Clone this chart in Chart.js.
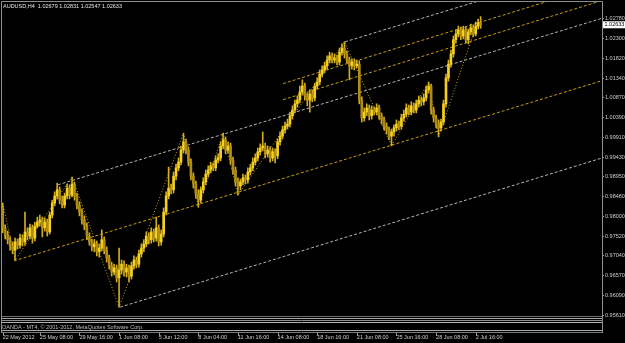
<!DOCTYPE html>
<html>
<head>
<meta charset="utf-8">
<script src="https://cdn.jsdelivr.net/npm/chart.js@4.4.1/dist/chart.umd.min.js"></script>
<style>
  html, body { margin: 0; padding: 0; background: #000; overflow: hidden; }
  canvas { display: block; }
</style>
</head>
<body>
<canvas id="chart" width="625" height="343"></canvas>
<script>
// AUDUSD H4, 22 May – 3 Jul 2012
const opens = [
  0.9820, 0.9772, 0.9755, 0.9743, 0.9728, 0.9718, 0.9738, 0.9730, 0.9747, 0.9738,
  0.9762, 0.9752, 0.9772, 0.9747, 0.9776, 0.9786, 0.9791, 0.9772, 0.9786, 0.9762,
  0.9803, 0.9832, 0.9849, 0.9864, 0.9839, 0.9827, 0.9849, 0.9868, 0.9851, 0.9878,
  0.9849, 0.9827, 0.9810, 0.9791, 0.9776, 0.9752, 0.9738, 0.9726, 0.9733, 0.9714,
  0.9723, 0.9743, 0.9718, 0.9699, 0.9680, 0.9665, 0.9675, 0.9651, 0.9670, 0.9684,
  0.9665, 0.9675, 0.9655, 0.9680, 0.9694, 0.9684, 0.9709, 0.9723, 0.9733, 0.9752,
  0.9743, 0.9762, 0.9747, 0.9772, 0.9738, 0.9757, 0.9810, 0.9849, 0.9868, 0.9864,
  0.9897, 0.9917, 0.9931, 0.9960, 0.9980, 0.9960, 0.9931, 0.9897, 0.9878, 0.9854,
  0.9839, 0.9864, 0.9883, 0.9902, 0.9912, 0.9922, 0.9917, 0.9936, 0.9941, 0.9970,
  0.9985, 0.9960, 0.9970, 0.9936, 0.9912, 0.9883, 0.9873, 0.9883, 0.9893, 0.9888,
  0.9907, 0.9917, 0.9931, 0.9941, 0.9956, 0.9965, 0.9970, 0.9951, 0.9960, 0.9941,
  0.9956, 0.9946, 0.9980, 0.9994, 1.0009, 1.0018, 1.0023, 1.0043, 1.0057, 1.0072,
  1.0081, 1.0101, 1.0115, 1.0091, 1.0081, 1.0096, 1.0086, 1.0115, 1.0125, 1.0144,
  1.0154, 1.0164, 1.0178, 1.0188, 1.0178, 1.0183, 1.0173, 1.0197, 1.0207, 1.0193,
  1.0178, 1.0164, 1.0173, 1.0164, 1.0168, 1.0081, 1.0038, 1.0052, 1.0062, 1.0043,
  1.0057, 1.0052, 1.0062, 1.0043, 1.0033, 1.0018, 1.0009, 0.9994, 1.0004, 1.0014,
  1.0023, 1.0018, 1.0038, 1.0047, 1.0062, 1.0052, 1.0067, 1.0057, 1.0072, 1.0081,
  1.0077, 1.0086, 1.0106, 1.0115, 1.0057, 1.0038, 1.0023, 1.0014, 1.0028, 1.0072,
  1.0135, 1.0168, 1.0193, 1.0227, 1.0241, 1.0251, 1.0236, 1.0251, 1.0227, 1.0246,
  1.0256, 1.0241, 1.0260, 1.02679
];
const highs = [
  0.9832, 0.9779, 0.9764, 0.9750, 0.9738, 0.9747, 0.9745, 0.9757, 0.9755, 0.9810,
  0.9772, 0.9781, 0.9779, 0.9786, 0.9798, 0.9803, 0.9798, 0.9796, 0.9793, 0.9810,
  0.9839, 0.9859, 0.9880, 0.9871, 0.9849, 0.9856, 0.9878, 0.9876, 0.9895, 0.9883,
  0.9856, 0.9835, 0.9818, 0.9801, 0.9784, 0.9760, 0.9745, 0.9743, 0.9740, 0.9733,
  0.9767, 0.9750, 0.9726, 0.9706, 0.9689, 0.9684, 0.9682, 0.9723, 0.9694, 0.9692,
  0.9684, 0.9682, 0.9689, 0.9704, 0.9701, 0.9718, 0.9733, 0.9743, 0.9762, 0.9760,
  0.9772, 0.9769, 0.9798, 0.9779, 0.9767, 0.9820, 0.9859, 0.9919, 0.9878, 0.9907,
  0.9926, 0.9941, 0.9970, 1.0001, 0.9987, 0.9968, 0.9939, 0.9905, 0.9885, 0.9864,
  0.9871, 0.9893, 0.9912, 0.9922, 0.9931, 0.9929, 0.9946, 0.9951, 0.9980, 1.0001,
  0.9992, 0.9980, 0.9977, 0.9943, 0.9919, 0.9893, 0.9890, 0.9902, 0.9900, 0.9917,
  0.9926, 0.9941, 0.9951, 0.9965, 0.9975, 1.0004, 0.9977, 0.9970, 0.9968, 0.9965,
  0.9963, 0.9987, 1.0004, 1.0018, 1.0028, 1.0035, 1.0052, 1.0067, 1.0081, 1.0091,
  1.0115, 1.0130, 1.0122, 1.0098, 1.0106, 1.0106, 1.0122, 1.0135, 1.0154, 1.0164,
  1.0173, 1.0188, 1.0197, 1.0195, 1.0193, 1.0190, 1.0207, 1.0217, 1.0222, 1.0200,
  1.0185, 1.0181, 1.0181, 1.0178, 1.0176, 1.0089, 1.0062, 1.0072, 1.0069, 1.0067,
  1.0064, 1.0072, 1.0069, 1.0050, 1.0040, 1.0026, 1.0016, 1.0011, 1.0021, 1.0033,
  1.0030, 1.0047, 1.0057, 1.0072, 1.0069, 1.0077, 1.0074, 1.0081, 1.0091, 1.0089,
  1.0096, 1.0115, 1.0125, 1.0120, 1.0064, 1.0045, 1.0033, 1.0035, 1.0081, 1.0144,
  1.0178, 1.0202, 1.0236, 1.0251, 1.0260, 1.0258, 1.0260, 1.0258, 1.0253, 1.0265,
  1.0263, 1.0270, 1.0277, 1.02831
];
const lows = [
  0.9760, 0.9745, 0.9733, 0.9718, 0.9709, 0.9694, 0.9721, 0.9723, 0.9728, 0.9730,
  0.9743, 0.9745, 0.9735, 0.9740, 0.9772, 0.9776, 0.9750, 0.9764, 0.9752, 0.9757,
  0.9796, 0.9825, 0.9842, 0.9830, 0.9820, 0.9820, 0.9842, 0.9842, 0.9847, 0.9839,
  0.9818, 0.9801, 0.9781, 0.9767, 0.9743, 0.9730, 0.9716, 0.9714, 0.9704, 0.9701,
  0.9716, 0.9709, 0.9689, 0.9672, 0.9655, 0.9658, 0.9641, 0.9580, 0.9660, 0.9655,
  0.9653, 0.9641, 0.9648, 0.9672, 0.9675, 0.9677, 0.9701, 0.9714, 0.9726, 0.9733,
  0.9735, 0.9738, 0.9740, 0.9728, 0.9730, 0.9750, 0.9803, 0.9842, 0.9854, 0.9856,
  0.9888, 0.9910, 0.9924, 0.9953, 0.9951, 0.9922, 0.9888, 0.9868, 0.9844, 0.9822,
  0.9832, 0.9856, 0.9876, 0.9895, 0.9905, 0.9910, 0.9910, 0.9929, 0.9934, 0.9963,
  0.9951, 0.9953, 0.9926, 0.9902, 0.9873, 0.9851, 0.9864, 0.9876, 0.9878, 0.9880,
  0.9900, 0.9910, 0.9924, 0.9934, 0.9948, 0.9958, 0.9941, 0.9943, 0.9931, 0.9934,
  0.9929, 0.9939, 0.9972, 0.9987, 1.0001, 1.0011, 1.0016, 1.0035, 1.0050, 1.0064,
  1.0074, 1.0093, 1.0081, 1.0067, 1.0052, 1.0077, 1.0079, 1.0108, 1.0118, 1.0137,
  1.0147, 1.0156, 1.0171, 1.0171, 1.0171, 1.0166, 1.0166, 1.0190, 1.0183, 1.0171,
  1.0130, 1.0156, 1.0154, 1.0159, 1.0072, 1.0028, 1.0030, 1.0043, 1.0033, 1.0035,
  1.0045, 1.0045, 1.0035, 1.0023, 1.0009, 0.9999, 0.9985, 0.9970, 0.9994, 1.0006,
  1.0009, 1.0011, 1.0030, 1.0040, 1.0045, 1.0045, 1.0050, 1.0050, 1.0064, 1.0067,
  1.0069, 1.0079, 1.0098, 1.0047, 1.0028, 1.0014, 0.9992, 1.0006, 1.0021, 1.0064,
  1.0127, 1.0161, 1.0185, 1.0219, 1.0234, 1.0227, 1.0229, 1.0219, 1.0217, 1.0239,
  1.0234, 1.0236, 1.0253, 1.02547
];
const closes = [
  0.9772, 0.9755, 0.9743, 0.9728, 0.9718, 0.9738, 0.9730, 0.9747, 0.9738, 0.9762,
  0.9752, 0.9772, 0.9747, 0.9776, 0.9786, 0.9791, 0.9772, 0.9786, 0.9762, 0.9803,
  0.9832, 0.9849, 0.9864, 0.9839, 0.9827, 0.9849, 0.9868, 0.9851, 0.9878, 0.9849,
  0.9827, 0.9810, 0.9791, 0.9776, 0.9752, 0.9738, 0.9726, 0.9733, 0.9714, 0.9723,
  0.9743, 0.9718, 0.9699, 0.9680, 0.9665, 0.9675, 0.9651, 0.9670, 0.9684, 0.9665,
  0.9675, 0.9655, 0.9680, 0.9694, 0.9684, 0.9709, 0.9723, 0.9733, 0.9752, 0.9743,
  0.9762, 0.9747, 0.9772, 0.9738, 0.9757, 0.9810, 0.9849, 0.9868, 0.9864, 0.9897,
  0.9917, 0.9931, 0.9960, 0.9980, 0.9960, 0.9931, 0.9897, 0.9878, 0.9854, 0.9839,
  0.9864, 0.9883, 0.9902, 0.9912, 0.9922, 0.9917, 0.9936, 0.9941, 0.9970, 0.9985,
  0.9960, 0.9970, 0.9936, 0.9912, 0.9883, 0.9873, 0.9883, 0.9893, 0.9888, 0.9907,
  0.9917, 0.9931, 0.9941, 0.9956, 0.9965, 0.9970, 0.9951, 0.9960, 0.9941, 0.9956,
  0.9946, 0.9980, 0.9994, 1.0009, 1.0018, 1.0023, 1.0043, 1.0057, 1.0072, 1.0081,
  1.0101, 1.0115, 1.0091, 1.0081, 1.0096, 1.0086, 1.0115, 1.0125, 1.0144, 1.0154,
  1.0164, 1.0178, 1.0188, 1.0178, 1.0183, 1.0173, 1.0197, 1.0207, 1.0193, 1.0178,
  1.0164, 1.0173, 1.0164, 1.0168, 1.0081, 1.0038, 1.0052, 1.0062, 1.0043, 1.0057,
  1.0052, 1.0062, 1.0043, 1.0033, 1.0018, 1.0009, 0.9994, 1.0004, 1.0014, 1.0023,
  1.0018, 1.0038, 1.0047, 1.0062, 1.0052, 1.0067, 1.0057, 1.0072, 1.0081, 1.0077,
  1.0086, 1.0106, 1.0115, 1.0057, 1.0038, 1.0023, 1.0014, 1.0028, 1.0072, 1.0135,
  1.0168, 1.0193, 1.0227, 1.0241, 1.0251, 1.0236, 1.0251, 1.0227, 1.0246, 1.0256,
  1.0241, 1.0260, 1.0268, 1.02633
];

// time axis: bar index -> label
const timeIdx    = [0, 15, 31, 47, 63, 79, 95, 111, 127, 143, 159, 175, 191];
const timeLabels = ['22 May 2012', '25 May 08:00', '29 May 16:00', '1 Jun 08:00', '5 Jun 12:00',
                    '8 Jun 04:00', '11 Jun 16:00', '14 Jun 08:00', '18 Jun 16:00', '21 Jun 08:00',
                    '25 Jun 16:00', '28 Jun 08:00', '2 Jul 16:00'];
const priceTicks = [0.95610, 0.96090, 0.96570, 0.97040, 0.97520, 0.98000, 0.98480, 0.98950,
                    0.99430, 0.99910, 1.00390, 1.00870, 1.01340, 1.01820, 1.02300, 1.02780];

// channel lines: [startBar, startPrice, endBar, endPrice]
const grayUpper  = [22.3, 0.9876, 242, 1.0279];
const grayTop    = [138.2, 1.0222, 242, 1.0412];
const grayLower  = [47.4, 0.9580, 242, 0.9941];
const goldLower  = [4.6, 0.9692, 242, 1.0128];
const goldTopA   = [113.2, 1.0121, 242, 1.0361];
const goldTopB   = [113.2, 1.0082, 242, 1.0322];

// zigzag pivots
const zigIdx   = [0, 5, 28, 47, 73, 79, 89, 95, 138, 157, 172, 176, 192];
const zigPrice = [0.9832, 0.9694, 0.9895, 0.9580, 1.0001, 0.9822, 1.0001, 0.9851, 1.0222, 0.9970, 1.0125, 0.9992, 1.0277];

const FONT = '"Liberation Sans", Arial, sans-serif';
const TXT = '#cfcfcf';
const UP = '#f4d020', DOWN = '#b08c14', WICK = '#d2ac1a';

const seg = l => [{ x: l[0], y: l[1] }, { x: l[2], y: l[3] }];
const lineDs = (l, color, dash) => ({
  type: 'line', data: seg(l), borderColor: color, borderWidth: 1, borderDash: dash,
  pointRadius: 0, tension: 0, order: 5,
});

const decor = {
  id: 'decor',
  beforeDraw(chart) {
    const c = chart.ctx;
    c.save();
    c.fillStyle = '#000';
    c.fillRect(0, 0, chart.width, chart.height);
    c.restore();
  },
  afterDraw(chart) {
    const c = chart.ctx, a = chart.chartArea, xs = chart.scales.x, ys = chart.scales.y;
    c.save();
    // bottom strip
    const stripes = [[316.5, '#6e6e6e'], [318.5, '#a8a8a8'], [320.5, '#8c8c8c'], [322.5, '#b0b0b0'],
                     [330.5, '#a8a8a8'], [332.5, '#7a7a7a']];
    stripes.forEach(([y, col]) => {
      c.strokeStyle = col; c.lineWidth = 1;
      c.beginPath(); c.moveTo(1, y); c.lineTo(a.right, y); c.stroke();
    });
    c.font = `5.5px ${FONT}`;
    c.textBaseline = 'middle'; c.textAlign = 'left';
    c.fillStyle = '#bdbdbd';
    c.fillText('OANDA - MT4, © 2001-2012, MetaQuotes Software Corp.', 2, 327);
    // frame
    c.strokeStyle = '#8e8e8e';
    c.beginPath();
    c.moveTo(1.5, 333); c.lineTo(1.5, 1.5); c.lineTo(a.right + 0.5, 1.5); c.lineTo(a.right + 0.5, 333);
    c.stroke();
    // time tick marks
    c.strokeStyle = '#9a9a9a';
    timeIdx.forEach(v => {
      const x = Math.round(xs.getPixelForValue(v)) + 0.5;
      c.beginPath(); c.moveTo(x, 333); c.lineTo(x, 336); c.stroke();
    });
    // header
    c.fillStyle = '#e6e6e6';
    const last = closes.length - 1;
    c.fillText(`AUDUSD,H4  ${opens[last].toFixed(5)} ${highs[last].toFixed(5)} ${lows[last].toFixed(5)} ${closes[last].toFixed(5)}`, 3, 6.5);
    // current price marker
    const py = ys.getPixelForValue(closes[last]);
    c.fillStyle = '#ffffff';
    c.fillRect(a.right + 1, py - 3.5, 22, 7);
    c.fillStyle = '#000';
    c.fillText(closes[last].toFixed(5), a.right + 2.5, py);
    c.restore();
  }
};

new Chart(document.getElementById('chart'), {
  type: 'bar',
  data: {
    datasets: [
      lineDs(grayUpper, '#b4b4b4', [3, 2]),
      lineDs(grayTop, '#b4b4b4', [3, 2]),
      lineDs(grayLower, '#b4b4b4', [3, 2]),
      lineDs(goldLower, '#c49c10', [3, 2]),
      lineDs(goldTopA, '#c49c10', [3, 2]),
      lineDs(goldTopB, '#c49c10', [3, 2]),
      {
        type: 'line', data: zigIdx.map((x, i) => ({ x, y: zigPrice[i] })),
        borderColor: '#d0a818', borderWidth: 1, borderDash: [1, 2], pointRadius: 0, tension: 0, order: 4,
      },
      {
        type: 'bar', data: highs.map((h, i) => ({ x: i, y: [lows[i], h] })),
        backgroundColor: WICK, barThickness: 1, grouped: false, order: 2,
      },
      {
        type: 'bar', data: opens.map((o, i) => ({ x: i, y: [o, closes[i]] })),
        backgroundColor: c => closes[c.dataIndex] >= opens[c.dataIndex] ? UP : DOWN,
        barThickness: 2, grouped: false, minBarLength: 1, order: 1,
      },
    ],
  },
  options: {
    responsive: false,
    animation: false,
    events: [],
    layout: { padding: { left: 2, top: 2, right: 0, bottom: 0 } },
    plugins: { legend: { display: false }, tooltip: { enabled: false } },
    scales: {
      x: {
        type: 'linear', min: -0.28, max: 242, offset: false, bounds: 'data',
        grid: { display: false, drawTicks: false, offset: false },
        border: { display: false },
        afterBuildTicks: s => { s.ticks = timeIdx.map(v => ({ value: v })); },
        afterFit: s => { s.height = 27; s.paddingLeft = 0; s.paddingRight = 0; },
        ticks: {
          autoSkip: false, maxRotation: 0, minRotation: 0, align: 'start', padding: 18,
          color: TXT, font: { family: FONT, size: 5.5 },
          callback: v => timeLabels[timeIdx.indexOf(v)],
        },
      },
      y: {
        type: 'linear', position: 'right', min: 0.95586, max: 1.03184, bounds: 'data',
        grid: { drawOnChartArea: false, drawTicks: true, tickLength: 2, color: '#9a9a9a' },
        border: { display: false },
        afterBuildTicks: s => { s.ticks = priceTicks.map(v => ({ value: v })); },
        afterFit: s => { s.width = 23; s.paddingTop = 0; s.paddingBottom = 0; },
        ticks: {
          autoSkip: false, padding: 1, color: TXT, font: { family: FONT, size: 5.5 },
          callback: v => v.toFixed(5),
        },
      },
    },
  },
  plugins: [decor],
});
</script>
</body>
</html>
